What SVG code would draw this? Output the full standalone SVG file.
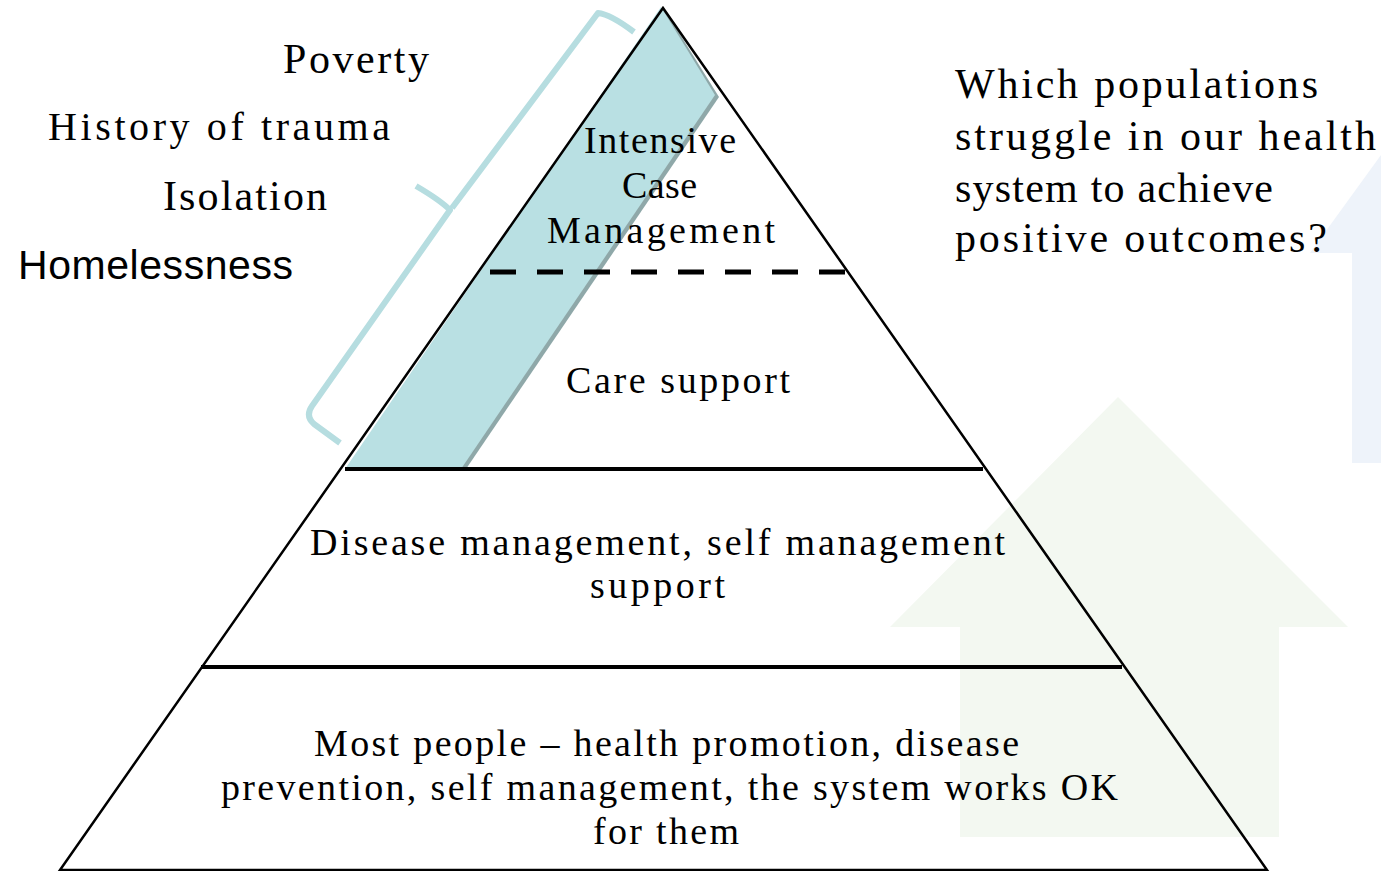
<svg xmlns="http://www.w3.org/2000/svg" width="1381" height="871" viewBox="0 0 1381 871">
<style>
.s{font-family:"Liberation Serif","Times New Roman",serif;fill:#000}
.a{font-family:"Liberation Sans",Arial,sans-serif;fill:#000}
.edge{fill:none;stroke:#000;stroke-width:2.5}
.tier{stroke:#000;stroke-width:4}
</style>
<rect width="1381" height="871" fill="#fff"/>
<g id="bg-arrows">
<polygon points="1310,253 1381,155 1381,463 1352,463 1352,253" fill="#eef3fa"/>
<polygon points="1118,397 1348,627 1279,627 1279,837 960,837 960,627 890,627" fill="#f3f8f1"/>
</g>
<g id="band">
<polygon points="663,7 719,97 466,469 349,469" fill="#8fa8a9"/>
<polygon points="661,7 715,95 461,469 345,469" fill="#b9e0e3"/>
</g>
<g id="pyramid">
<polygon class="edge" points="663,8 1267,870 60,870"/>
<line class="tier" x1="345" y1="469" x2="983" y2="469"/>
<line class="tier" x1="201" y1="667" x2="1122" y2="667"/>
<line x1="490" y1="272" x2="846" y2="272" stroke="#000" stroke-width="5" stroke-dasharray="26,21"/>
</g>
<g id="brace">
<path d="M634,32 Q610,14 598,13 L452,208 M416,186 Q440,200 450,210 L312,406 Q305,416 314,424 L340,443" fill="none" stroke="#b6dde0" stroke-width="6" stroke-linejoin="round"/>
</g>
<g id="labels-left">
<text class="s" x="283" y="73" font-size="42" textLength="146" lengthAdjust="spacing">Poverty</text>
<text class="s" x="48" y="140" font-size="40" textLength="342" lengthAdjust="spacing">History of trauma</text>
<text class="s" x="163" y="210" font-size="42" textLength="164" lengthAdjust="spacing">Isolation</text>
<text class="a" x="18" y="279" font-size="41" textLength="275" lengthAdjust="spacing">Homelessness</text>
</g>
<g id="question">
<text class="s" x="955" y="98" font-size="42" textLength="363" lengthAdjust="spacing">Which populations</text>
<text class="s" x="955" y="150" font-size="42" textLength="421" lengthAdjust="spacing">struggle in our health</text>
<text class="s" x="955" y="202" font-size="42" textLength="318" lengthAdjust="spacing">system to achieve</text>
<text class="s" x="955" y="252" font-size="42" textLength="372" lengthAdjust="spacing">positive outcomes?</text>
</g>
<g id="tier-top">
<text class="s" x="584" y="153" font-size="38" textLength="152" lengthAdjust="spacing">Intensive</text>
<text class="s" x="622" y="198" font-size="38" textLength="75" lengthAdjust="spacing">Case</text>
<text class="s" x="547" y="243" font-size="38" textLength="228" lengthAdjust="spacing">Management</text>
</g>
<g id="tier-care">
<text class="s" x="566" y="393" font-size="38" textLength="224" lengthAdjust="spacing">Care support</text>
</g>
<g id="tier-disease">
<text class="s" x="310" y="555" font-size="38" textLength="695" lengthAdjust="spacing">Disease management, self management</text>
<text class="s" x="590" y="598" font-size="38" textLength="135" lengthAdjust="spacing">support</text>
</g>
<g id="tier-base">
<text class="s" x="314" y="756" font-size="38" textLength="705" lengthAdjust="spacing">Most people – health promotion, disease</text>
<text class="s" x="221" y="800" font-size="38" textLength="897" lengthAdjust="spacing">prevention, self management, the system works OK</text>
<text class="s" x="593" y="844" font-size="38" textLength="146" lengthAdjust="spacing">for them</text>
</g>
</svg>
